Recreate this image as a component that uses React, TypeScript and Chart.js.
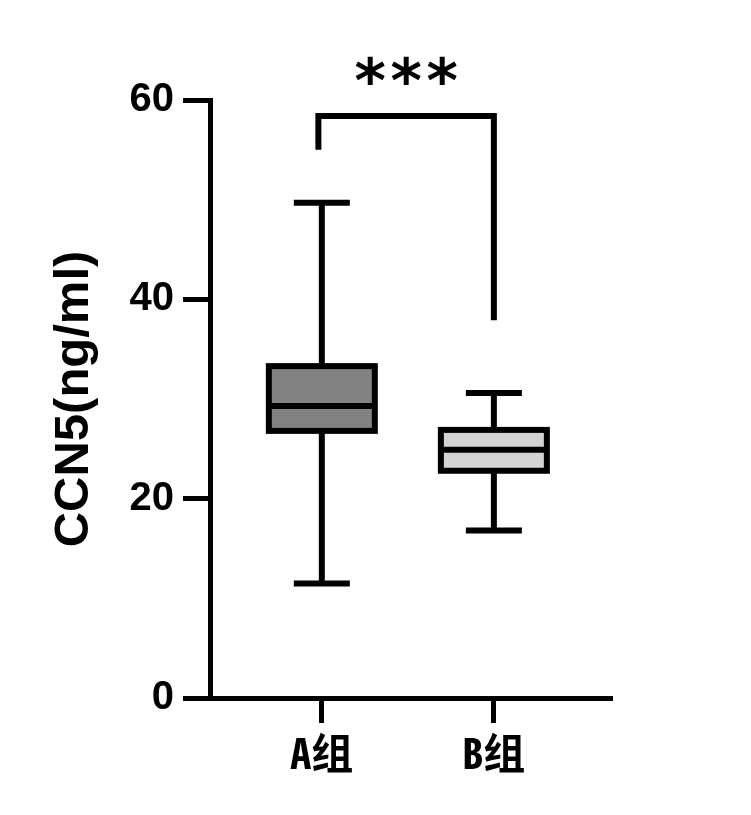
import React, { useEffect, useRef } from "react";
import { Chart, registerables } from "chart.js";

Chart.register(...registerables);

// ---- data ----
const categories = ["A组", "B组"];
const categoryPositions = [1, 2];
const whiskerMin = [11.5, 16.8];
const q1Values = [26.8, 22.8];
const medianValues = [29.3, 24.9];
const q3Values = [33.3, 26.9];
const whiskerMax = [49.7, 30.6];
const boxColors = ["#828282", "#d3d3d3"];
const yTitle = "CCN5(ng/ml)";
const sigLabel = "***";
const bracketX = [0.98, 2];
const bracketTop = 58.4;
const bracketEnds = [55, 37.9];

const BOX_W = 106;
const CAP_W = 56;
const LINE_W = 6;

const boxPlugin = {
  id: "boxplotDraw",
  afterDatasetsDraw(chart: any) {
    const { ctx, scales } = chart;
    const x = scales.x;
    const y = scales.y;
    ctx.save();
    ctx.strokeStyle = "#000";
    ctx.lineWidth = LINE_W;
    ctx.lineCap = "butt";
    ctx.lineJoin = "miter";
    categories.forEach((_, i) => {
      const cx = x.getPixelForValue(categoryPositions[i]);
      const pMin = y.getPixelForValue(whiskerMin[i]);
      const pMax = y.getPixelForValue(whiskerMax[i]);
      const pQ1 = y.getPixelForValue(q1Values[i]);
      const pQ3 = y.getPixelForValue(q3Values[i]);
      const pMed = y.getPixelForValue(medianValues[i]);
      const half = BOX_W / 2;
      const capHalf = CAP_W / 2;
      ctx.beginPath();
      ctx.moveTo(cx, pMax);
      ctx.lineTo(cx, pQ3);
      ctx.moveTo(cx, pQ1);
      ctx.lineTo(cx, pMin);
      ctx.moveTo(cx - capHalf, pMax);
      ctx.lineTo(cx + capHalf, pMax);
      ctx.moveTo(cx - capHalf, pMin);
      ctx.lineTo(cx + capHalf, pMin);
      ctx.moveTo(cx - half, pMed);
      ctx.lineTo(cx + half, pMed);
      ctx.stroke();
      ctx.strokeRect(cx - half, pQ3, 2 * half, pQ1 - pQ3);
    });

    // significance bracket
    const bx1 = x.getPixelForValue(bracketX[0]);
    const bx2 = x.getPixelForValue(bracketX[1]);
    const bTop = y.getPixelForValue(bracketTop);
    ctx.beginPath();
    ctx.moveTo(bx1, y.getPixelForValue(bracketEnds[0]));
    ctx.lineTo(bx1, bTop);
    ctx.lineTo(bx2, bTop);
    ctx.lineTo(bx2, y.getPixelForValue(bracketEnds[1]));
    ctx.stroke();

    ctx.fillStyle = "#000";
    ctx.font = 'bold 60px "DejaVu Sans"';
    ctx.textAlign = "center";
    ctx.textBaseline = "alphabetic";
    const mid = (bx1 + bx2) / 2;
    const chars = sigLabel.split("");
    const spacing = 36;
    chars.forEach((ch, k) => {
      ctx.fillText(ch, mid + (k - (chars.length - 1) / 2) * spacing, bTop - 14);
    });
    ctx.restore();
  },
};

export default function App() {
  const canvasRef = useRef<HTMLCanvasElement | null>(null);

  useEffect(() => {
    if (!canvasRef.current) return;
    const chart = new Chart(canvasRef.current, {
      type: "bar",
      data: {
        datasets: [
          {
            data: categories.map((_, i) => ({
              x: categoryPositions[i],
              y: [q1Values[i], q3Values[i]],
            })) as any,
            backgroundColor: boxColors,
            borderWidth: 0,
            barThickness: BOX_W,
          },
        ],
      },
      options: {
        responsive: false,
        animation: false,
        devicePixelRatio: 1,
        layout: { padding: { top: 100, right: 141, left: 0, bottom: 0 } },
        plugins: {
          legend: { display: false },
          tooltip: { enabled: false },
        },
        scales: {
          x: {
            type: "linear",
            min: 0.35,
            max: 2.675,
            offset: false,
            afterBuildTicks: (s: any) => {
              s.ticks = categoryPositions.map((v) => ({ value: v }));
            },
            afterFit: (s: any) => {
              s.height = 117;
            },
            ticks: {
              callback: (v: any) => {
                const idx = categoryPositions.indexOf(Number(v));
                return idx >= 0 ? categories[idx] : "";
              },
              font: {
                family: '"Noto Sans Mono CJK SC", "Noto Sans CJK SC", sans-serif',
                size: 42,
                weight: "bold",
                lineHeight: 1.2,
              },
              color: "#000",
              padding: 5,
              maxRotation: 0,
              autoSkip: false,
            },
            grid: {
              offset: false,
              drawOnChartArea: false,
              drawTicks: true,
              tickLength: 25,
              lineWidth: 5,
              color: "#000",
            },
            border: { display: true, width: 5, color: "#000" },
          },
          y: {
            min: 0,
            max: 60,
            ticks: {
              stepSize: 20,
              font: { family: '"Liberation Sans", Arial, sans-serif', size: 40, weight: "bold" },
              color: "#000",
              padding: 9,
            },
            afterFit: (s: any) => {
              s.width = 210;
            },
            grid: {
              drawOnChartArea: false,
              drawTicks: true,
              tickLength: 27,
              lineWidth: 5,
              color: "#000",
            },
            border: { display: true, width: 5, color: "#000" },
            title: {
              display: true,
              text: yTitle,
              color: "#000",
              font: { family: '"Liberation Sans", Arial, sans-serif', size: 49, weight: "bold", lineHeight: 1.2 },
              padding: { top: 45, bottom: 0 },
            },
          },
        },
      },
      plugins: [boxPlugin],
    });
    return () => chart.destroy();
  }, []);

  return (
    <div
      style={{
        position: "fixed",
        left: 0,
        top: 0,
        width: 751,
        height: 815,
        background: "#fff",
      }}
    >
      <canvas ref={canvasRef} width={751} height={815} style={{ width: 751, height: 815 }} />
    </div>
  );
}
